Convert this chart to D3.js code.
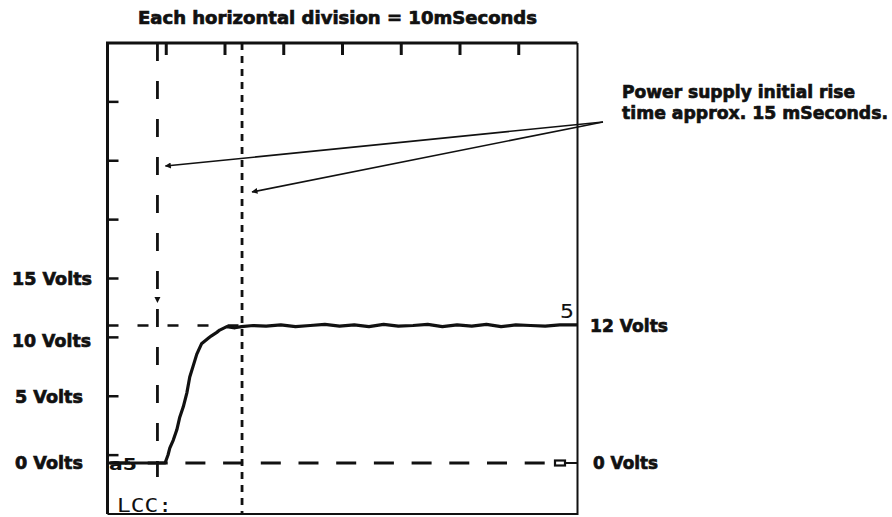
<!DOCTYPE html>
<html><head><meta charset="utf-8">
<script src="https://cdn.jsdelivr.net/npm/d3@7"></script>
<style>
html,body{margin:0;padding:0;background:#fff;}
svg{display:block;}
.lbl{font-family:"DejaVu Sans",sans-serif;font-weight:bold;font-size:17.5px;fill:#111;stroke:#111;stroke-width:0.7px;}
.scope{font-family:"DejaVu Sans Mono",monospace;font-size:19px;fill:#111;}
</style></head>
<body>
<svg id="c" width="892" height="517"></svg>
<script>
// ---- data ----
const title = "Each horizontal division = 10mSeconds";
const divisions = [1, 2, 3, 4, 5, 6, 7];           // graticule ticks (8 x 8 divisions)
const traceTimeMs = [0, 2, 4, 6, 8, 9.8, 10.3, 10.6, 11.2, 11.8, 12.3, 12.9, 13.5, 14.0, 14.6, 15.2, 16.0, 17.2, 17.7, 18.6, 19.1, 20.3, 21.7, 22.8, 24.8,
  27, 29.5, 32, 34.5, 37, 39.5, 42, 44.5, 47, 49.5, 52, 54.5, 57, 59.5, 62, 64.5, 67, 69.5, 72, 74.5, 77, 80];
const traceVolts  = [0, 0, 0, 0, 0, 0, 0.7, 1.3, 2.0, 2.9, 4.0, 4.9, 6.1, 7.5, 8.5, 9.5, 10.4, 10.9, 11.1, 11.4, 11.6, 11.9, 11.8, 11.9, 12.0,
  11.95, 12.05, 11.9, 12.0, 12.1, 11.95, 12.05, 11.9, 12.1, 11.95, 12.0, 12.1, 11.9, 12.05, 11.95, 12.1, 11.9, 12.05, 12.0, 11.95, 12.05, 12.05];
const cursorTimesMs = [8.5, 22.9];                    // vertical cursors (~15 ms apart)
const refVolts = 12;                                   // horizontal cursor level
const leftLabels = ["15 Volts", "10 Volts", "5 Volts", "0 Volts"];
const leftLabelDivs = [4, 2.95, 2, 0.88];
const rightLabels = ["12 Volts", "0 Volts"];
const rightLabelVolts = [12, 0];
const note = ["Power supply initial rise", "time approx. 15 mSeconds."];

// ---- layout ----
const svg = d3.select("#c");
const L = 107.5, R = 577.5, T = 43, B = 514;
const x = d3.scaleLinear().domain([0, 80]).range([L, R]);       // ms
const yDiv = d3.scaleLinear().domain([0, 8]).range([B, T]);     // divisions
const yV = d3.scaleLinear().domain([0, 12]).range([463, 325.5]); // volts

// defs: arrowhead
svg.append("defs").append("marker").attr("id", "ah")
  .attr("viewBox", "0 0 10 10").attr("refX", 9).attr("refY", 5)
  .attr("markerWidth", 9).attr("markerHeight", 6).attr("markerUnits", "userSpaceOnUse")
  .attr("orient", "auto")
  .append("path").attr("d", "M0,0 L10,5 L0,10 Z").attr("fill", "#111");

// title
svg.append("text").attr("class", "lbl").attr("x", 138).attr("y", 24)
  .attr("textLength", 399).attr("lengthAdjust", "spacingAndGlyphs").text(title);

// border
const g = svg.append("g");
g.append("path").attr("d", `M${L},${B} L${L},${T} L${R},${T}`).attr("fill", "none").attr("stroke", "#111").attr("stroke-width", 3);
g.append("path").attr("d", `M${R},${T} L${R},${B} L${L},${B}`).attr("fill", "none").attr("stroke", "#111").attr("stroke-width", 2);

// graticule ticks: top and left
g.selectAll(".tt").data(divisions).join("line")
  .attr("x1", d => x(d * 10)).attr("x2", d => x(d * 10)).attr("y1", T).attr("y2", T + 12)
  .attr("stroke", "#111").attr("stroke-width", 3);
g.selectAll(".lt").data(divisions).join("line")
  .attr("x1", L).attr("x2", L + 11).attr("y1", d => yDiv(d)).attr("y2", d => yDiv(d))
  .attr("stroke", "#111").attr("stroke-width", 2.5);

// horizontal 0V dashed reference
g.append("line").attr("x1", 110).attr("x2", 546).attr("y1", yV(0)).attr("y2", yV(0))
  .attr("stroke", "#111").attr("stroke-width", 2.8).attr("stroke-dasharray", "20,17.7");
// 12V horizontal cursor
g.append("line").attr("x1", L).attr("x2", x(cursorTimesMs[1])).attr("y1", yV(refVolts)).attr("y2", yV(refVolts))
  .attr("stroke", "#111").attr("stroke-width", 2.5).attr("stroke-dasharray", "11,19");
// vertical cursors
g.append("line").attr("x1", x(cursorTimesMs[0])).attr("x2", x(cursorTimesMs[0])).attr("y1", T).attr("y2", 477)
  .attr("stroke", "#111").attr("stroke-width", 2.8).attr("stroke-dasharray", "18,20");
g.append("line").attr("x1", x(cursorTimesMs[1])).attr("x2", x(cursorTimesMs[1])).attr("y1", T).attr("y2", B)
  .attr("stroke", "#111").attr("stroke-width", 2.8).attr("stroke-dasharray", "7,6");
// trigger mark on cursor 1
g.append("path").attr("d", `M${x(cursorTimesMs[0]) - 3},297 L${x(cursorTimesMs[0]) + 3},297 L${x(cursorTimesMs[0])},303 Z`).attr("fill", "#111");

// trace
const line = d3.line().x((d, i) => x(traceTimeMs[i])).y(d => yV(d)).curve(d3.curveLinear);
g.append("path").attr("d", line(traceVolts)).attr("fill", "none").attr("stroke", "#111")
  .attr("stroke-width", 3.2).attr("stroke-linejoin", "round");

// channel ground markers
g.append("text").attr("x", 109).attr("y", 470).attr("font-family", "DejaVu Sans").attr("font-weight", "bold")
  .attr("font-size", 15).attr("fill", "#111").attr("textLength", 28).attr("lengthAdjust", "spacingAndGlyphs").text("a5");
g.append("rect").attr("x", 555).attr("y", yV(0) - 2.5).attr("width", 10).attr("height", 5)
  .attr("fill", "#fff").attr("stroke", "#111").attr("stroke-width", 2.2);
g.append("line").attr("x1", 565).attr("x2", R).attr("y1", yV(0)).attr("y2", yV(0)).attr("stroke", "#111").attr("stroke-width", 2);

// scope readouts
svg.append("text").attr("class", "scope").attr("x", 560).attr("y", 318).attr("textLength", 14).attr("lengthAdjust", "spacingAndGlyphs").text("5");
svg.append("text").attr("class", "scope").attr("x", 117).attr("y", 512).attr("textLength", 55).attr("lengthAdjust", "spacingAndGlyphs").text("LCC:");

// left labels
const leftW = [80, 79, 68, 68];
svg.selectAll(".ll").data(leftLabels).join("text").attr("class", "lbl")
  .attr("x", (d, i) => i === 0 || i === 1 ? 12 : 15)
  .attr("y", (d, i) => yDiv(leftLabelDivs[i]) + 6.5)
  .attr("textLength", (d, i) => leftW[i]).attr("lengthAdjust", "spacingAndGlyphs")
  .text(d => d);

// right labels
const rightW = [78, 65];
svg.selectAll(".rl").data(rightLabels).join("text").attr("class", "lbl")
  .attr("x", (d, i) => i === 0 ? 590 : 593)
  .attr("y", (d, i) => yV(rightLabelVolts[i]) + 6)
  .attr("textLength", (d, i) => rightW[i]).attr("lengthAdjust", "spacingAndGlyphs")
  .text(d => d);

// annotation
svg.append("text").attr("class", "lbl").attr("x", 622).attr("y", 98).attr("textLength", 233).attr("lengthAdjust", "spacingAndGlyphs").text(note[0]);
svg.append("text").attr("class", "lbl").attr("x", 622).attr("y", 119).attr("textLength", 266).attr("lengthAdjust", "spacingAndGlyphs").text(note[1]);

// arrows from annotation to cursors
const origin = [603, 122];
const targets = [[x(cursorTimesMs[0]) + 8, yDiv(5.91)], [x(cursorTimesMs[1]) + 10, yDiv(5.47)]];
svg.selectAll(".ar").data(targets).join("line")
  .attr("x1", origin[0]).attr("y1", origin[1]).attr("x2", d => d[0]).attr("y2", d => d[1])
  .attr("stroke", "#111").attr("stroke-width", 1.6).attr("marker-end", "url(#ah)");
</script>
</body></html>
